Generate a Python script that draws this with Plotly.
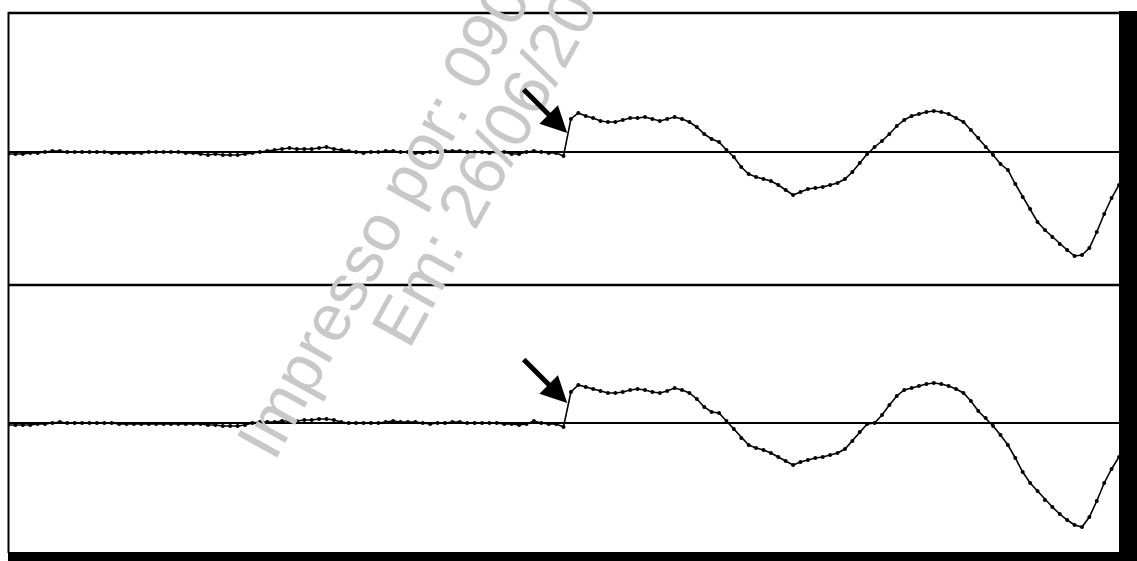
import plotly.graph_objects as go

# sample index (time axis)
t = list(range(151))

# upper trace (relative to its baseline)
upper = [
    -2, -2, -2, -1, -1, 0, 1, 1, 0, 0,
    0, 0, 0, 0, -1, -1, -1, -1, -1, 0,
    0, 0, 0, 0, -1, -1, -2, -3, -2, -3,
    -3, -3, -2, -1, 0, 1, 2, 3, 4, 3,
    3, 3, 4, 5, 3, 2, 1, 0, -1, 0,
    0, 1, 1, 0, 0, -1, -1, 0, 0, 1,
    1, 1, 0, 0, 0, -1, 0, 0, -2, -2,
    0, 1, 0, -1, -1, -4, 33, 39, 36, 34,
    31, 30, 30, 32, 34, 34, 35, 33, 31, 33,
    35, 33, 30, 25, 18, 13, 10, 2, -5, -15,
    -22, -25, -27, -29, -33, -38, -43, -40, -37, -36,
    -35, -33, -31, -27, -20, -11, -2, 5, 11, 18,
    26, 32, 36, 38, 40, 41, 40, 38, 34, 30,
    22, 14, 5, -3, -12, -18, -32, -45, -57, -70,
    -78, -85, -92, -98, -104, -103, -96, -80, -62, -46,
    -33,
]

# lower trace (relative to its baseline)
lower = [
    -2, -2, -2, -2, -1, -1, 0, 1, 0, 0,
    0, 0, 0, 0, 0, -1, -1, -1, -1, -1,
    -1, -1, -1, -1, -1, -1, -1, -2, -2, -3,
    -3, -3, -2, 0, 1, 1, 1, 2, 2, 2,
    3, 3, 4, 4, 3, 1, 0, 0, 0, 0,
    0, 1, 2, 1, 1, 1, 0, -1, 0, 0,
    1, 1, 0, 0, 0, 0, 0, -1, -1, -2,
    -1, 2, 0, -1, -1, -4, 31, 38, 36, 34,
    32, 30, 30, 31, 33, 34, 33, 31, 30, 32,
    35, 33, 30, 24, 16, 11, 10, 2, -6, -15,
    -22, -25, -27, -30, -34, -38, -42, -39, -37, -35,
    -34, -32, -30, -26, -18, -9, -1, 0, 8, 18,
    27, 33, 35, 37, 39, 40, 39, 37, 34, 30,
    22, 12, 5, -3, -12, -22, -35, -49, -60, -68,
    -77, -84, -91, -97, -102, -104, -94, -78, -60, -46,
    -34,
]

step_index = 75.5
arrow_value_upper = 19
arrow_value_lower = 20

watermark_lines = ["Impresso por: 090", "Em: 26/06/20"]

W, H = 1137, 561
def px(x):
    return x / W
def py(y):
    return 1 - y / H

fig = go.Figure()
line_style = dict(color="black", width=1.6)
marker_style = dict(color="black", size=4)
fig.add_trace(go.Scatter(x=t, y=upper, mode="lines+markers", line=line_style,
                         marker=marker_style, xaxis="x", yaxis="y", showlegend=False))
fig.add_trace(go.Scatter(x=t, y=lower, mode="lines+markers", line=line_style,
                         marker=marker_style, xaxis="x2", yaxis="y2", showlegend=False))

xdom = [px(8), px(1119)]
ax_common = dict(showgrid=False, showticklabels=False, ticks="", zeroline=False,
                 showline=False, range=[0, 150])
ay_common = dict(showgrid=False, showticklabels=False, ticks="", zeroline=True,
                 zerolinecolor="black", zerolinewidth=1.6, showline=False)

fig.update_layout(
    width=W, height=H, autosize=False,
    margin=dict(l=0, r=0, t=0, b=0),
    paper_bgcolor="white", plot_bgcolor="white",
    xaxis=dict(domain=xdom, anchor="y", **ax_common),
    xaxis2=dict(domain=xdom, anchor="y2", **ax_common),
    yaxis=dict(domain=[py(285), py(13)], range=[-133, 139], anchor="x", **ay_common),
    yaxis2=dict(domain=[py(552), py(285)], range=[-129, 138], anchor="x2", **ay_common),
)

# frame
shapes = [
    dict(type="line", xref="paper", yref="paper", x0=px(8.5), x1=px(8.5),
         y0=py(12), y1=py(553), line=dict(color="black", width=2)),
    dict(type="line", xref="paper", yref="paper", x0=px(8), x1=px(1120),
         y0=py(13), y1=py(13), line=dict(color="black", width=2.5)),
    dict(type="line", xref="paper", yref="paper", x0=px(8), x1=px(1120),
         y0=py(285), y1=py(285), line=dict(color="black", width=2.5)),
    dict(type="rect", xref="paper", yref="paper", x0=px(8), x1=1,
         y0=0, y1=py(552), fillcolor="black", line=dict(width=0)),
    dict(type="rect", xref="paper", yref="paper", x0=px(1119), x1=1,
         y0=0, y1=py(11), fillcolor="black", line=dict(width=0)),
]
fig.update_layout(shapes=shapes)

# watermark
wm_font = dict(family="Liberation Sans, Arial, sans-serif", size=66, color="#c8c8c8")
centers = [(383, 219), (484, 168)]
for txt, (cx, cy) in zip(watermark_lines, centers):
    fig.add_annotation(x=px(cx), y=py(cy), xref="paper", yref="paper", text=txt,
                       showarrow=False, textangle=-61, font=wm_font,
                       xanchor="center", yanchor="middle", borderpad=0)

# arrows pointing at the step
for xr, yr, val in [("x", "y", arrow_value_upper), ("x2", "y2", arrow_value_lower)]:
    fig.add_annotation(x=step_index, y=val, xref=xr, yref=yr, text="",
                       showarrow=True, ax=-45, ay=-45, arrowhead=2,
                       arrowsize=1.05, arrowwidth=5, arrowcolor="black", standoff=0)

fig.write_html("out.html", config={"displayModeBar": False},
               post_script="document.body.style.margin='0px';")
